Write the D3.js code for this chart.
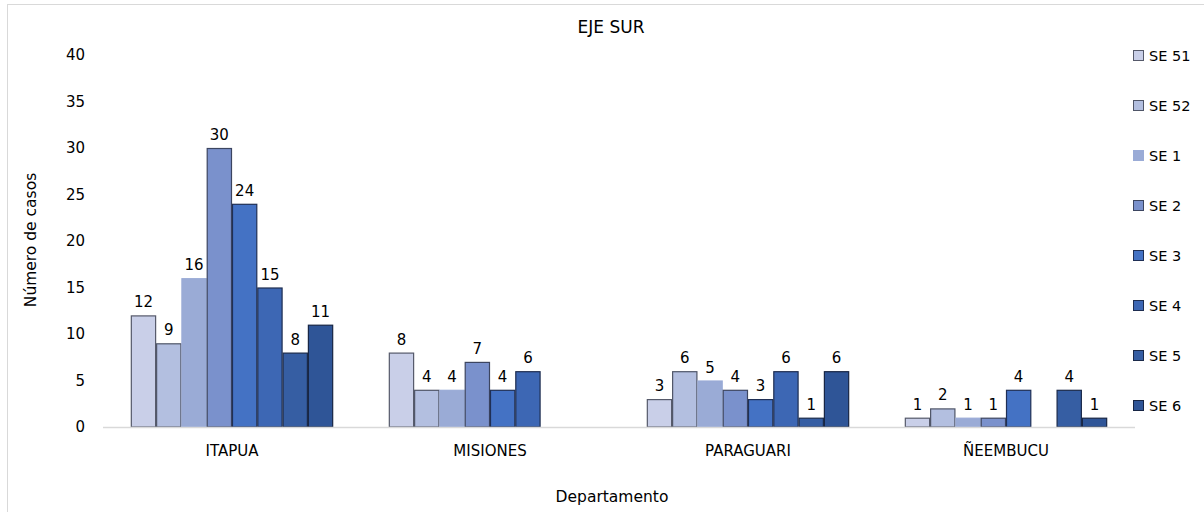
<!DOCTYPE html>
<html>
<head>
<meta charset="utf-8">
<script src="https://cdn.jsdelivr.net/npm/d3@7"></script>
<style>
  body { margin: 0; background: #fff; }
  svg { display: block; font-family: "DejaVu Sans", sans-serif; }
</style>
</head>
<body>
<svg id="chart" width="1204" height="512"></svg>
<script>
const title = "EJE SUR";
const departamentos = ["ITAPUA", "MISIONES", "PARAGUARI", "ÑEEMBUCU"];
const semanas = ["SE 51", "SE 52", "SE 1", "SE 2", "SE 3", "SE 4", "SE 5", "SE 6"];
// values per semana, in order of departamentos (null = no bar)
const se51 = [12, 8, 3, 1];
const se52 = [9, 4, 6, 2];
const se1  = [16, 4, 5, 1];
const se2  = [30, 7, 4, 1];
const se3  = [24, 4, 3, 4];
const se4  = [15, 6, 6, null];
const se5  = [8, null, 1, 4];
const se6  = [11, null, 6, 1];
const seriesValues = [se51, se52, se1, se2, se3, se4, se5, se6];
const yTicks = [0, 5, 10, 15, 20, 25, 30, 35, 40];
const yLabel = "Número de casos";
const xLabel = "Departamento";

const colors = ["#c9cfe8", "#b3bfe0", "#9aabd6", "#7a91cc", "#4472c4", "#3d67b4", "#365ea3", "#2f5597"];
const strokes = ["#55596a", "#4f5568", "#9aabd6", "#3c4560", "#1f2f55", "#1e2d50", "#1b2a4a", "#172544"];

const svg = d3.select("#chart");
const W = 1204, H = 512;

// outer border
svg.append("rect").attr("x", 7.5).attr("y", 4.5).attr("width", W + 10).attr("height", H + 10)
  .attr("fill", "none").attr("stroke", "#d9d9d9");

const x0 = d3.scaleBand().domain(departamentos).range([103, 1135]).paddingInner(0).paddingOuter(0);
const x1 = d3.scaleBand().domain(semanas).range([0, x0.bandwidth()]).paddingInner(0).paddingOuter(1.1);
const y = d3.scaleLinear().domain([0, 40]).range([427, 55]);

// y tick labels
svg.append("g").selectAll("text").data(yTicks).join("text")
  .attr("x", 85).attr("y", d => y(d)).attr("dy", "0.36em")
  .attr("text-anchor", "end").attr("font-size", 15).attr("fill", "#000")
  .text(d => d);

// bars
const data = [];
departamentos.forEach((dep, i) => {
  semanas.forEach((s, j) => {
    const v = seriesValues[j][i];
    if (v !== null) data.push({dep, s, j, v});
  });
});

const g = svg.append("g");
g.selectAll("rect").data(data).join("rect")
  .attr("x", d => x0(d.dep) + x1(d.s) + 0.5)
  .attr("y", d => y(d.v) + 0.5)
  .attr("width", x1.bandwidth() - 1)
  .attr("height", d => y(0) - y(d.v) - 0.5)
  .attr("fill", d => colors[d.j])
  .attr("stroke", d => strokes[d.j])
  .attr("stroke-width", 1.2);

// axis line
svg.append("line").attr("x1", 103).attr("x2", 1135).attr("y1", 427.5).attr("y2", 427.5)
  .attr("stroke", "#d9d9d9").attr("stroke-width", 1.5);

// value labels
g.selectAll("text.val").data(data).join("text").attr("class", "val")
  .attr("x", d => x0(d.dep) + x1(d.s) + x1.bandwidth() / 2)
  .attr("y", d => y(d.v) - 8)
  .attr("text-anchor", "middle").attr("font-size", 15).attr("fill", "#000")
  .text(d => d.v);

// category labels
svg.append("g").selectAll("text").data(departamentos).join("text")
  .attr("x", d => x0(d) + x0.bandwidth() / 2).attr("y", 456)
  .attr("text-anchor", "middle").attr("font-size", 15).attr("fill", "#000")
  .text(d => d);

// title
svg.append("text").attr("x", 611).attr("y", 33).attr("text-anchor", "middle")
  .attr("font-size", 17).attr("fill", "#000").text(title);

// axis titles
svg.append("text").attr("x", 612).attr("y", 502).attr("text-anchor", "middle")
  .attr("font-size", 15.5).attr("fill", "#000").text(xLabel);
svg.append("text").attr("transform", "translate(36,240) rotate(-90)").attr("text-anchor", "middle")
  .attr("font-size", 15.5).attr("fill", "#000").text(yLabel);

// legend
const lg = svg.append("g").selectAll("g").data(semanas).join("g")
  .attr("transform", (d, i) => `translate(1133, ${56 + i * 50})`);
lg.append("rect").attr("x", 0.5).attr("y", -5.5).attr("width", 10).attr("height", 10)
  .attr("fill", (d, i) => colors[i]).attr("stroke", (d, i) => strokes[i]);
lg.append("text").attr("x", 16).attr("y", 0).attr("dy", "0.36em")
  .attr("font-size", 14.5).attr("fill", "#000").text(d => d);
</script>
</body>
</html>
